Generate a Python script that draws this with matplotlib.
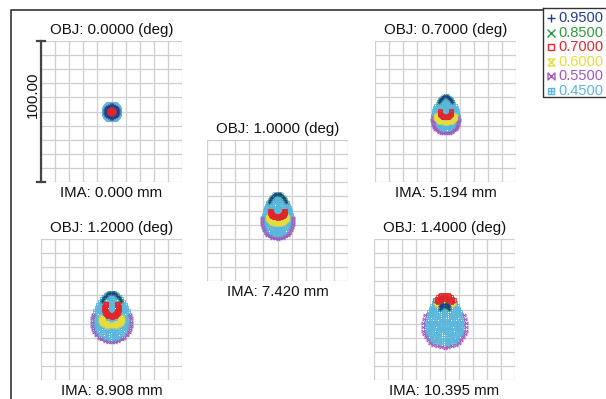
import numpy as np
import matplotlib
matplotlib.use("Agg")
import matplotlib.pyplot as plt
from matplotlib.path import Path

W, H = 606, 399
plt.rcParams['font.family'] = ['Liberation Sans', 'DejaVu Sans']

# Wavelengths (um) in system order, with their plotting colours
wavelengths = [0.95, 0.85, 0.70, 0.60, 0.55, 0.45]
wl_colors = ['#1f3f94', '#2e9a3e', '#e0262a', '#e6dc3c', '#a557b8', '#5bb6dc']

# Field angles (deg) and the matching image heights (mm)
fields = [0.0, 0.7, 1.0, 1.2, 1.4]
image_heights = [0.000, 5.194, 7.420, 8.908, 10.395]

# Spot footprint per field (rows) and wavelength (columns, order as above), um:
# centroid y, half-width, half-height, inner pupil zone, sector centre (deg, 0 = up),
# sector half-angle (deg)
spot_cy = [
    [0.0, 0.0, 0.0, 0.0, 0.0, 0.0],
    [0.0, 0.0, 1.0, -3.0, -3.0, -2.0],
    [0.0, 0.0, 0.0, -4.0, -4.0, -4.0],
    [0.0, 0.0, 2.0, -6.0, -5.0, -5.0],
    [-6.0, -6.0, 0.0, 0.0, -8.0, -8.0],
]
spot_rx = [
    [4.6, 2.6, 2.6, 4.0, 3.0, 5.6],
    [7.0, 7.0, 4.0, 7.0, 9.0, 8.5],
    [8.0, 8.0, 5.0, 7.0, 10.5, 10.0],
    [9.0, 9.0, 5.0, 8.0, 13.5, 12.5],
    [7.0, 7.0, 10.0, 9.0, 14.8, 13.0],
]
spot_ry = [
    [4.6, 2.6, 2.6, 4.0, 3.0, 5.6],
    [11.0, 11.0, 5.0, 5.0, 12.5, 12.0],
    [12.0, 12.0, 5.0, 5.5, 16.0, 15.0],
    [12.0, 12.0, 7.0, 6.0, 18.0, 17.0],
    [10.0, 10.0, 10.5, 9.0, 19.0, 17.0],
]
spot_rho_in = [
    [1.0, 1.0, 1.0, 0.85, 1.0, 0.0],
    [1.0, 1.0, 1.0, 0.85, 1.0, 0.0],
    [1.0, 1.0, 0.85, 0.7, 1.0, 0.0],
    [1.0, 1.0, 0.85, 0.7, 1.0, 0.0],
    [0.85, 0.85, 0.7, 0.7, 1.0, 0.0],
]
spot_phi0 = [
    [0, 0, 0, 0, 0, 0],
    [0, 0, 180, 180, 180, 0],
    [0, 0, 180, 180, 180, 0],
    [0, 0, 180, 180, 180, 0],
    [0, 0, 0, 0, 180, 0],
]
spot_span = [
    [180, 180, 180, 180, 180, 180],
    [55, 55, 90, 100, 90, 180],
    [60, 60, 90, 100, 90, 180],
    [60, 60, 110, 100, 100, 180],
    [40, 40, 55, 60, 110, 180],
]
spot_egg = [0.0, 0.25, 0.25, 0.25, 0.25]

# Order in which the wavelengths are plotted (indices into the lists above)
draw_order = [5, 1, 4, 3, 2, 0]

# Panel placement in pixels (left, top) and grid size
panels = [(41, 41), (375, 41), (207, 140), (41, 239), (374, 239)]
SIZE = 141
HALF = 50.0  # grid half-width (um)
FS = 10.8


def hourglass():
    v = [(-1, 1), (1, 1), (-1, -1), (1, -1), (-1, 1)]
    return Path(v, [Path.MOVETO] + [Path.LINETO] * 3 + [Path.CLOSEPOLY])


def bowtie():
    v = [(-1, 1), (1, -1), (1, 1), (-1, -1), (-1, 1)]
    return Path(v, [Path.MOVETO] + [Path.LINETO] * 3 + [Path.CLOSEPOLY])


def boxcross():
    v = [(-1, -1), (1, -1), (1, 1), (-1, 1), (-1, -1),
         (0, -1), (0, 1), (-1, 0), (1, 0)]
    c = [Path.MOVETO, Path.LINETO, Path.LINETO, Path.LINETO, Path.CLOSEPOLY,
         Path.MOVETO, Path.LINETO, Path.MOVETO, Path.LINETO]
    return Path(v, c)


markers = ['+', 'x', 's', hourglass(), bowtie(), boxcross()]


def hexapolar(cy, rx, ry, rho_in, phi0, span, egg, nrings=7):
    """Hexapolar pupil rays mapped onto the image plane."""
    xs, ys = [], []
    if rho_in <= 0:
        xs.append(0.0)
        ys.append(cy)
    for k in range(1, nrings + 1):
        rho = k / nrings
        if rho < rho_in - 1e-9:
            continue
        th = 2 * np.pi * np.arange(6 * k) / (6 * k)
        d = np.degrees(np.angle(np.exp(1j * (th - np.radians(phi0)))))
        th = th[np.abs(d) <= span + 1e-9]
        xs.extend(rx * rho * np.sin(th) * (1 - egg * rho * np.cos(th)))
        ys.extend(cy + ry * rho * np.cos(th))
    return np.array(xs), np.array(ys)


def rect(x0, y0, w, h):
    return [x0 / W, 1 - (y0 + h) / H, w / W, h / H]


fig = plt.figure(figsize=(W / 100, H / 100), dpi=100)

# Page frame and legend, in pixel coordinates
page = fig.add_axes([0, 0, 1, 1])
page.set_xlim(0, W)
page.set_ylim(H, 0)
page.axis('off')
page.plot([11, 11, 543], [H, 10, 10], color='#333333', lw=1.2)
page.plot([543, 543, W + 2], [8, 97, 97], color='#333333', lw=1.0)
page.plot([543, W + 2], [8, 8], color='#333333', lw=1.0)
for i, (wl, col, mk) in enumerate(zip(wavelengths, wl_colors, markers)):
    yy = 18 + i * 14.6
    page.plot([551], [yy], marker=mk, ms=5 if i > 1 else 6, mfc='none',
              mec=col, mew=1.0, ls='none')
    page.text(558, yy, f"{wl:.4f}", color=col, fontsize=10.5, va='center', ha='left')

for fi, (fld, ima) in enumerate(zip(fields, image_heights)):
    x0, y0 = panels[fi]
    ax = fig.add_axes(rect(x0, y0, SIZE, SIZE))
    ax.set_xlim(-HALF, HALF)
    ax.set_ylim(-HALF, HALF)
    for t in np.linspace(-HALF, HALF, 11):
        ax.axvline(t, color='#cfcfcf', lw=0.9, zorder=0)
        ax.axhline(t, color='#cfcfcf', lw=0.9, zorder=0)
    for s in ax.spines.values():
        s.set_visible(False)
    ax.set_xticks([])
    ax.set_yticks([])
    ax.patch.set_alpha(0)
    for z, wi in enumerate(draw_order):
        xs, ys = hexapolar(spot_cy[fi][wi], spot_rx[fi][wi], spot_ry[fi][wi],
                           spot_rho_in[fi][wi], spot_phi0[fi][wi],
                           spot_span[fi][wi], spot_egg[fi])
        ax.plot(xs, ys, ls='none', marker=markers[wi], ms=2.2,
                mfc='none', mec=wl_colors[wi], mew=0.6, zorder=2 + z)
    ax.text(0, HALF + 3.0, f"OBJ: {fld:.4f} (deg)", ha='center', va='bottom',
            fontsize=FS, color='#111111', clip_on=False)
    ax.text(0, -HALF - 3, f"IMA: {ima:.3f} mm", ha='center', va='top',
            fontsize=FS, color='#111111', clip_on=False)
    if fi == 0:
        ax.plot([-HALF, -HALF], [-HALF, HALF], color='#444444', lw=1.6,
                clip_on=False, zorder=5)
        for yv in (-HALF, HALF):
            ax.plot([-HALF - 3, -HALF + 3], [yv, yv], color='#444444', lw=1.6,
                    clip_on=False, zorder=5)
        ax.text(-HALF - 5.5, 12, "100.00", rotation=90, ha='center', va='center',
                fontsize=FS, color='#111111', clip_on=False)

fig.savefig('out.png', dpi=100)
